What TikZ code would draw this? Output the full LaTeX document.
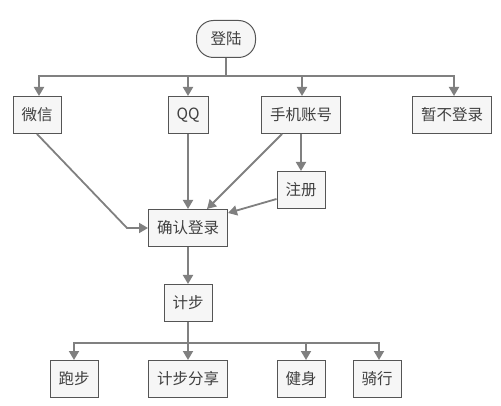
\documentclass[tikz,border=0pt]{standalone}
\usepackage{fontspec}
\setmainfont{Noto Sans CJK SC}
\usetikzlibrary{arrows.meta}
\definecolor{linegray}{RGB}{128,128,128}
\definecolor{boxfill}{RGB}{246,246,246}
\definecolor{boxline}{RGB}{85,85,85}
\tikzset{
  box/.style={draw=boxline, line width=1pt, fill=boxfill, minimum height=37pt,
    inner xsep=8.5pt, font=\fontsize{15.5}{16}\selectfont, text=black!75},
  startbox/.style={box, rounded corners=17pt, inner xsep=14pt},
  link/.style={draw=linegray, line width=1.8pt,
    -{Triangle[width=10pt,length=9pt]}, color=linegray},
  bar/.style={draw=linegray, line width=1.8pt}
}
\begin{document}
\begin{tikzpicture}[x=1pt,y=-1pt]
  \useasboundingbox (0,0) rectangle (501,406);
  % top
  \node[startbox] (login) at (226,39) {登陆};
  \node[box] (wechat) at (37,115) {微信};
  \node[box] (qq) at (188,115) {QQ};
  \node[box] (phone) at (301,115) {手机账号};
  \node[box] (skip) at (452,115) {暂不登录};
  \node[box] (signup) at (301,190) {注册};
  \node[box] (confirm) at (188,228) {确认登录};
  % lower part
  \node[box] (steps) at (188,303) {计步};
  \node[box] (run) at (74,379) {跑步};
  \node[box] (share) at (188,379) {计步分享};
  \node[box] (fit) at (301,379) {健身};
  \node[box] (ride) at (377,379) {骑行};
  % branches from login
  \draw[bar] (login.south) -- (226,76) coordinate (top);
  \draw[link] (top) -| ([xshift=2pt]wechat.north);
  \draw[link] (top) -| (qq.north);
  \draw[link] (top) -| ([xshift=1pt]phone.north);
  \draw[link] (top) -| ([xshift=2pt]skip.north);
  % into confirm
  \coordinate (bend) at (127,228);
  \draw[link] (wechat.south) -- (bend) -- (confirm.west);
  \draw[link] (qq) -- (confirm);
  \draw[link] ([xshift=-19pt]phone.south) -- ([xshift=19pt]confirm.north);
  \draw[link] (phone) -- (signup);
  \draw[link] ([yshift=-9pt]signup.west) -- ([yshift=15pt]confirm.east);
  \draw[link] (confirm) -- (steps);
  % branches from steps
  \draw[bar] (steps.south) -- (188,343) coordinate (low);
  \draw[link] (low) -| (run.north);
  \draw[link] (low) -| (share.north);
  \draw[link] (low) -| ([xshift=5pt]fit.north);
  \draw[link] (low) -| ([xshift=2pt]ride.north);
\end{tikzpicture}
\end{document}
